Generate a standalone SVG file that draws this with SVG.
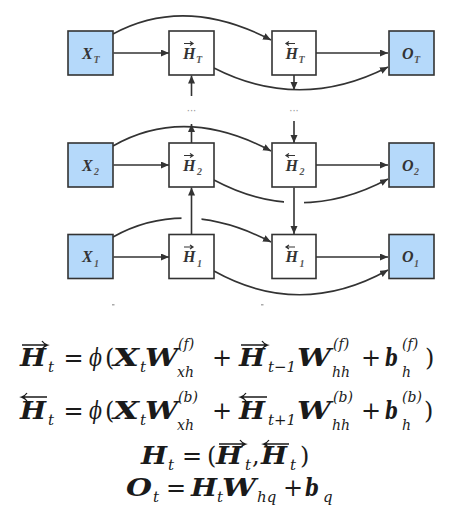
<svg xmlns="http://www.w3.org/2000/svg" width="472" height="515" viewBox="0 0 472 515">
<defs>
<style>
.box{stroke:#333;stroke-width:1.6}
.in{fill:#b5d9fa}
.hid{fill:#fff}
.lbl{font-family:"Liberation Serif",serif;font-weight:bold;font-style:italic;font-size:16px;fill:#333}
.sb{font-family:"Liberation Serif",serif;font-weight:bold;font-style:italic;font-size:10px;fill:#555}
.c{fill:none;stroke:#333;stroke-width:1.6}
.ga{fill:none;stroke:#fff;stroke-width:20}
.la{fill:none;stroke:#333;stroke-width:1.2}
.dots{font-family:"DejaVu Sans",sans-serif;font-size:10px;fill:#999;text-anchor:middle}
.mb{font-family:"DejaVu Serif",serif;font-weight:bold;font-style:italic;font-size:24px;fill:#1a1a1a}
.mi{font-family:"DejaVu Serif",serif;font-style:italic;font-size:15px;fill:#1a1a1a}
.ms{font-family:"DejaVu Serif",serif;font-style:italic;font-size:14px;fill:#1a1a1a}
.mr{font-family:"DejaVu Serif",serif;font-size:24px;fill:#1a1a1a}
.mm{text-anchor:middle}
.ar{fill:none;stroke:#1a1a1a;stroke-width:1.3}
</style>
<marker id="ah" markerUnits="userSpaceOnUse" markerWidth="9" markerHeight="8" refX="8" refY="3.5" orient="auto">
<path d="M0,0 L8,3.5 L0,7 z" fill="#333"/>
</marker>
</defs>
<rect width="472" height="515" fill="#fff"/>

<g id="connectors">
<path class="c" d="M113.5,53 H169" marker-end="url(#ah)"/>
<path class="c" d="M113,34 Q185,-5 271,40" marker-end="url(#ah)"/>
<path class="c" d="M316,53 H388" marker-end="url(#ah)"/>
<path class="c" d="M214,68 Q300,112 388,67" marker-end="url(#ah)"/>
<path class="c" d="M294,75 V90" marker-end="url(#ah)"/>
<path class="c" d="M191.5,96 V75.5" marker-end="url(#ah)"/>
<text class="dots" x="191.5" y="114">···</text>
<text class="dots" x="294" y="114">···</text>
<path class="c" d="M191.5,143 V124" marker-end="url(#ah)"/>
<path class="c" d="M294,121 V143" marker-end="url(#ah)"/>
<path class="c" d="M113.5,165 H169" marker-end="url(#ah)"/>
<path class="c" d="M113,146 Q185,105 271,151" marker-end="url(#ah)"/>
<path class="c" d="M316,165 H388" marker-end="url(#ah)"/>
<path class="c" d="M214,180 Q300,226 388,179" marker-end="url(#ah)"/>
<path class="ga" d="M294,196 V211"/>
<path class="c" d="M294,187.5 V234" marker-end="url(#ah)"/>
<path class="c" d="M113.5,257 H169" marker-end="url(#ah)"/>
<path class="c" d="M113,237 Q185,197 271,242" marker-end="url(#ah)"/>
<path class="ga" d="M191.5,210 V225"/>
<path class="c" d="M191.5,234 V187.5" marker-end="url(#ah)"/>
<path class="c" d="M316,257 H388" marker-end="url(#ah)"/>
<path class="c" d="M214,271 Q300,319 388,270" marker-end="url(#ah)"/>
<rect x="112" y="304" width="2.5" height="1.5" fill="#aaa"/>
<rect x="261" y="304" width="2.5" height="1.5" fill="#aaa"/>
</g>

<g id="xT"><rect class="box in" x="68" y="31" width="45" height="44"/><text class="lbl" x="82" y="58.5">X</text><text class="sb" x="93.5" y="63">T</text></g>
<g id="hfT"><rect class="box hid" x="169" y="31" width="45" height="44"/><path class="la" d="M184,43.5 H193 M190,41.5 L193,43.5 L190,45.5"/><text class="lbl" x="183" y="58.5">H</text><text class="sb" x="196" y="63">T</text></g>
<g id="hbT"><rect class="box hid" x="272" y="31" width="44" height="44"/><path class="la" d="M286,43.5 H295 M289,41.5 L286,43.5 L289,45.5"/><text class="lbl" x="285.5" y="58.5">H</text><text class="sb" x="298.5" y="63">T</text></g>
<g id="oT"><rect class="box in" x="389" y="31" width="45" height="44"/><text class="lbl" x="402" y="58.5">O</text><text class="sb" x="414" y="63">T</text></g>

<g id="x2"><rect class="box in" x="68" y="143" width="45" height="44"/><text class="lbl" x="82" y="170.5">X</text><text class="sb" x="94" y="175">2</text></g>
<g id="hf2"><rect class="box hid" x="169" y="143" width="45" height="44"/><path class="la" d="M184,155.5 H193 M190,153.5 L193,155.5 L190,157.5"/><text class="lbl" x="183" y="170.5">H</text><text class="sb" x="197" y="175">2</text></g>
<g id="hb2"><rect class="box hid" x="272" y="143" width="44" height="44"/><path class="la" d="M286,155.5 H295 M289,153.5 L286,155.5 L289,157.5"/><text class="lbl" x="285.5" y="170.5">H</text><text class="sb" x="299.5" y="175">2</text></g>
<g id="o2"><rect class="box in" x="389" y="143" width="45" height="44"/><text class="lbl" x="402" y="170.5">O</text><text class="sb" x="414" y="175">2</text></g>

<g id="x1"><rect class="box in" x="68" y="234.5" width="45" height="44"/><text class="lbl" x="82" y="262">X</text><text class="sb" x="94" y="266.5">1</text></g>
<g id="hf1"><rect class="box hid" x="169" y="234.5" width="45" height="44"/><path class="la" d="M184,247 H193 M190,245 L193,247 L190,249"/><text class="lbl" x="183" y="262">H</text><text class="sb" x="197" y="266.5">1</text></g>
<g id="hb1"><rect class="box hid" x="272" y="234.5" width="44" height="44"/><path class="la" d="M286,247 H295 M289,245 L286,247 L289,249"/><text class="lbl" x="285.5" y="262">H</text><text class="sb" x="299.5" y="266.5">1</text></g>
<g id="o1"><rect class="box in" x="389" y="234.5" width="45" height="44"/><text class="lbl" x="402" y="262">O</text><text class="sb" x="414" y="266.5">1</text></g>

<g id="eq1">
<path class="ar" d="M22,345 H47 M42,341 Q44,344 47.5,345 Q44,346 42,349"/>
<text class="mb" x="20" y="366" textLength="26" lengthAdjust="spacingAndGlyphs">H</text><text class="mi" x="48" y="372">t</text>
<text class="mr mm" x="73.5" y="366">=</text>
<text class="mi" x="89" y="366" style="font-size:24px" textLength="13" lengthAdjust="spacingAndGlyphs">ϕ</text>
<text class="mr" x="105" y="366">(</text>
<text class="mb" x="113" y="366" textLength="26" lengthAdjust="spacingAndGlyphs">X</text><text class="mi" x="140" y="372">t</text>
<text class="mb" x="145" y="366" textLength="33" lengthAdjust="spacingAndGlyphs">W</text><text class="ms" x="178" y="349">(f)</text><text class="ms" x="177" y="377">xh</text>
<text class="mr mm" x="222" y="366">+</text>
<path class="ar" d="M241,345 H267 M262,341 Q264,344 267.5,345 Q264,346 262,349"/>
<text class="mb" x="239" y="366" textLength="26" lengthAdjust="spacingAndGlyphs">H</text><text class="mi" x="268" y="372" textLength="28" lengthAdjust="spacingAndGlyphs">t−1</text>
<text class="mb" x="297" y="366" textLength="34" lengthAdjust="spacingAndGlyphs">W</text><text class="ms" x="333" y="349">(f)</text><text class="ms" x="332" y="377">hh</text>
<text class="mr mm" x="371" y="366">+</text>
<text class="mb" x="385" y="366" textLength="13" lengthAdjust="spacingAndGlyphs">b</text><text class="ms" x="402" y="349">(f)</text><text class="ms" x="402" y="377">h</text>
<text class="mr" x="425" y="366">)</text>
</g>
<g id="eq2">
<path class="ar" d="M22,397 H47 M27,393 Q25,396 21.5,397 Q25,398 27,401"/>
<text class="mb" x="20" y="419" textLength="26" lengthAdjust="spacingAndGlyphs">H</text><text class="mi" x="48" y="425">t</text>
<text class="mr mm" x="73.5" y="419">=</text>
<text class="mi" x="89" y="419" style="font-size:24px" textLength="13" lengthAdjust="spacingAndGlyphs">ϕ</text>
<text class="mr" x="105" y="419">(</text>
<text class="mb" x="113" y="419" textLength="26" lengthAdjust="spacingAndGlyphs">X</text><text class="mi" x="140" y="425">t</text>
<text class="mb" x="145" y="419" textLength="33" lengthAdjust="spacingAndGlyphs">W</text><text class="ms" x="178" y="402">(b)</text><text class="ms" x="177" y="430">xh</text>
<text class="mr mm" x="222" y="419">+</text>
<path class="ar" d="M241,397 H267 M246,393 Q244,396 240.5,397 Q244,398 246,401"/>
<text class="mb" x="239" y="419" textLength="26" lengthAdjust="spacingAndGlyphs">H</text><text class="mi" x="268" y="425" textLength="28" lengthAdjust="spacingAndGlyphs">t+1</text>
<text class="mb" x="297" y="419" textLength="34" lengthAdjust="spacingAndGlyphs">W</text><text class="ms" x="333" y="402">(b)</text><text class="ms" x="332" y="430">hh</text>
<text class="mr mm" x="371" y="419">+</text>
<text class="mb" x="385" y="419" textLength="13" lengthAdjust="spacingAndGlyphs">b</text><text class="ms" x="402" y="402">(b)</text><text class="ms" x="402" y="430">h</text>
<text class="mr" x="424" y="419">)</text>
</g>
<g id="eq3">
<text class="mb" x="141" y="464" textLength="26" lengthAdjust="spacingAndGlyphs">H</text><text class="mi" x="168" y="470">t</text>
<text class="mr mm" x="192" y="464">=</text>
<text class="mr" x="207" y="464">(</text>
<path class="ar" d="M219,444 H245 M240,440 Q242,443 245.5,444 Q242,445 240,448"/>
<text class="mb" x="216" y="464" textLength="26" lengthAdjust="spacingAndGlyphs">H</text><text class="mi" x="245" y="470">t</text>
<text class="mr" x="252" y="464">,</text>
<path class="ar" d="M264,444 H289 M269,440 Q267,443 263.5,444 Q267,445 269,448"/>
<text class="mb" x="261" y="464" textLength="26" lengthAdjust="spacingAndGlyphs">H</text><text class="mi" x="290" y="470">t</text>
<text class="mr" x="300" y="464">)</text>
</g>
<g id="eq4">
<text class="mb" x="126" y="496" textLength="26" lengthAdjust="spacingAndGlyphs">O</text><text class="mi" x="153" y="502">t</text>
<text class="mr mm" x="176" y="496">=</text>
<text class="mb" x="191" y="496" textLength="26" lengthAdjust="spacingAndGlyphs">H</text><text class="mi" x="217" y="502">t</text>
<text class="mb" x="222" y="496" textLength="34" lengthAdjust="spacingAndGlyphs">W</text><text class="mi" x="257" y="502">hq</text>
<text class="mr mm" x="293" y="496">+</text>
<text class="mb" x="305" y="496" textLength="14" lengthAdjust="spacingAndGlyphs">b</text><text class="mi" x="323" y="502">q</text>
</g>
</svg>
